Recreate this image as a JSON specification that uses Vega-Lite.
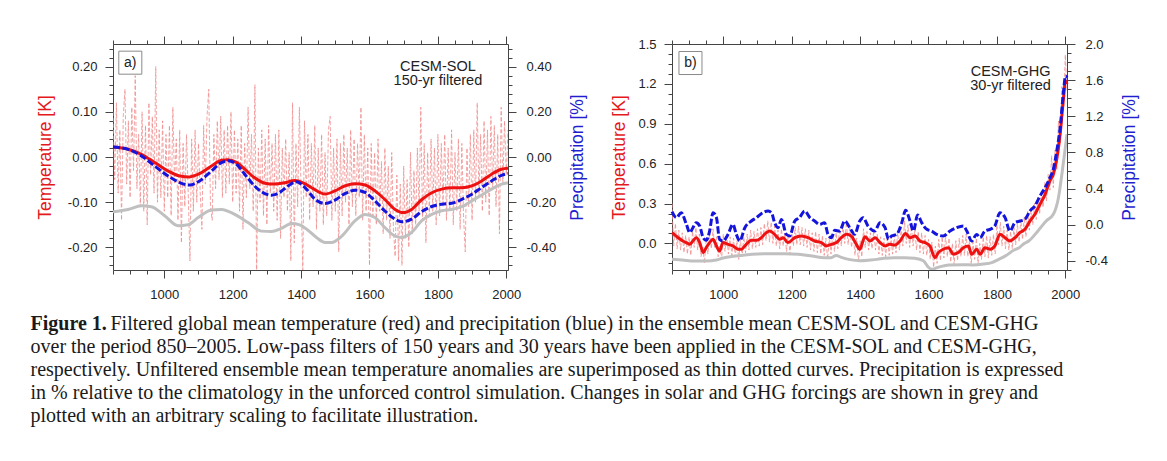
{
"$schema": "https://vega.github.io/schema/vega-lite/v6.json",
"padding": {"left": 30, "top": 35, "right": 5, "bottom": 5},
"background": "white",
"config": {
  "font": "Liberation Sans",
  "view": {"stroke": "#444", "strokeWidth": 1},
  "axis": {"domain": false, "grid": false, "tickColor": "#444", "tickWidth": 1, "tickSize": 8, "labelFont": "Liberation Sans", "labelFontSize": 13, "labelColor": "#222", "titleFont": "Liberation Sans", "titleFontSize": 17.5, "titleFontWeight": "normal"}
},
"title": {
  "text": "Figure 1.",
  "subtitle": [
    "\u200b\u00a0\u00a0\u00a0\u00a0\u00a0\u00a0\u00a0\u00a0\u00a0\u00a0\u00a0\u00a0\u00a0\u00a0\u00a0\u00a0Filtered global mean temperature (red) and precipitation (blue) in the ensemble mean CESM-SOL and CESM-GHG",
    "over the period 850–2005. Low-pass filters of 150 years and 30 years have been applied in the CESM-SOL and CESM-GHG,",
    "respectively. Unfiltered ensemble mean temperature anomalies are superimposed as thin dotted curves. Precipitation is expressed",
    "in % relative to the climatology in the unforced control simulation. Changes in solar and GHG forcings are shown in grey and",
    "plotted with an arbitrary scaling to facilitate illustration."
  ],
  "orient": "bottom", "anchor": "start", "offset": 12, "dx": -5,
  "font": "Liberation Serif", "fontSize": 20, "fontWeight": "bold", "color": "#1a1a1a",
  "subtitleFont": "Liberation Serif", "subtitleFontSize": 20, "subtitleColor": "#1a1a1a", "subtitleLineHeight": 23, "subtitlePadding": -20
},
"datasets": {
  "a_noise": [
    {"year":850,"value":0.10},{"year":855,"value":-0.05},{"year":860,"value":0.12},{"year":865,"value":-0.08},{"year":870,"value":0.06},{"year":875,"value":-0.14},{"year":880,"value":0.09},{"year":885,"value":0.15},{"year":890,"value":-0.06},{"year":895,"value":0.08},
    {"year":900,"value":-0.09},{"year":905,"value":0.11},{"year":910,"value":-0.03},{"year":915,"value":0.18},{"year":920,"value":-0.07},{"year":925,"value":0.05},{"year":930,"value":-0.11},{"year":935,"value":0.10},{"year":940,"value":-0.12},{"year":945,"value":0.07},
    {"year":950,"value":-0.15},{"year":955,"value":0.12},{"year":960,"value":-0.04},{"year":965,"value":0.09},{"year":970,"value":-0.08},{"year":975,"value":0.20},{"year":980,"value":-0.10},{"year":985,"value":0.06},{"year":990,"value":-0.09},{"year":995,"value":0.08},
    {"year":1000,"value":-0.12},{"year":1005,"value":0.05},{"year":1010,"value":-0.09},{"year":1015,"value":0.07},{"year":1020,"value":-0.13},{"year":1025,"value":0.11},{"year":1030,"value":-0.06},{"year":1035,"value":0.04},{"year":1040,"value":-0.14},{"year":1045,"value":0.06},
    {"year":1050,"value":-0.19},{"year":1055,"value":0.03},{"year":1060,"value":-0.11},{"year":1065,"value":0.05},{"year":1070,"value":-0.08},{"year":1075,"value":-0.23},{"year":1080,"value":0.04},{"year":1085,"value":-0.12},{"year":1090,"value":0.06},{"year":1095,"value":-0.10},
    {"year":1100,"value":0.03},{"year":1105,"value":-0.08},{"year":1110,"value":-0.16},{"year":1115,"value":0.07},{"year":1120,"value":-0.06},{"year":1125,"value":0.09},{"year":1130,"value":0.15},{"year":1135,"value":-0.11},{"year":1140,"value":-0.14},{"year":1145,"value":0.05},
    {"year":1150,"value":-0.07},{"year":1155,"value":0.08},{"year":1160,"value":-0.05},{"year":1165,"value":0.09},{"year":1170,"value":-0.09},{"year":1175,"value":0.06},{"year":1180,"value":-0.08},{"year":1185,"value":0.07},{"year":1190,"value":-0.06},{"year":1195,"value":0.10},
    {"year":1200,"value":-0.10},{"year":1205,"value":0.06},{"year":1210,"value":-0.08},{"year":1215,"value":0.04},{"year":1220,"value":-0.12},{"year":1225,"value":0.07},{"year":1230,"value":-0.16},{"year":1235,"value":0.03},{"year":1240,"value":-0.09},{"year":1245,"value":0.11},
    {"year":1250,"value":-0.07},{"year":1255,"value":0.05},{"year":1260,"value":-0.12},{"year":1265,"value":0.16},{"year":1270,"value":-0.25},{"year":1275,"value":0.02},{"year":1280,"value":-0.10},{"year":1285,"value":0.06},{"year":1290,"value":-0.13},{"year":1295,"value":0.04},
    {"year":1300,"value":-0.15},{"year":1305,"value":0.07},{"year":1310,"value":-0.08},{"year":1315,"value":0.03},{"year":1320,"value":-0.12},{"year":1325,"value":0.05},{"year":1330,"value":-0.14},{"year":1335,"value":0.06},{"year":1340,"value":-0.18},{"year":1345,"value":0.02},
    {"year":1350,"value":-0.09},{"year":1355,"value":0.04},{"year":1360,"value":-0.12},{"year":1365,"value":0.01},{"year":1370,"value":-0.23},{"year":1375,"value":0.12},{"year":1380,"value":-0.19},{"year":1385,"value":0.03},{"year":1390,"value":-0.11},{"year":1395,"value":0.11},
    {"year":1400,"value":-0.08},{"year":1405,"value":-0.25},{"year":1410,"value":0.08},{"year":1415,"value":-0.09},{"year":1420,"value":0.05},{"year":1425,"value":-0.14},{"year":1430,"value":0.03},{"year":1435,"value":-0.11},{"year":1440,"value":0.07},{"year":1445,"value":-0.16},
    {"year":1450,"value":0.02},{"year":1455,"value":-0.12},{"year":1460,"value":0.05},{"year":1465,"value":-0.15},{"year":1470,"value":0.01},{"year":1475,"value":-0.13},{"year":1480,"value":0.06},{"year":1485,"value":0.09},{"year":1490,"value":-0.14},{"year":1495,"value":0.02},
    {"year":1500,"value":-0.12},{"year":1505,"value":0.04},{"year":1510,"value":-0.21},{"year":1515,"value":0.03},{"year":1520,"value":-0.13},{"year":1525,"value":0.05},{"year":1530,"value":-0.10},{"year":1535,"value":0.02},{"year":1540,"value":-0.15},{"year":1545,"value":0.06},
    {"year":1550,"value":-0.11},{"year":1555,"value":0.04},{"year":1560,"value":-0.13},{"year":1565,"value":0.03},{"year":1570,"value":-0.09},{"year":1575,"value":0.11},{"year":1580,"value":-0.14},{"year":1585,"value":0.05},{"year":1590,"value":-0.12},{"year":1595,"value":0.02},
    {"year":1600,"value":-0.24},{"year":1605,"value":0.03},{"year":1610,"value":-0.13},{"year":1615,"value":0.01},{"year":1620,"value":-0.15},{"year":1625,"value":0.04},{"year":1630,"value":-0.12},{"year":1635,"value":-0.01},{"year":1640,"value":-0.17},{"year":1645,"value":0.02},
    {"year":1650,"value":-0.14},{"year":1655,"value":-0.02},{"year":1660,"value":-0.18},{"year":1665,"value":0.01},{"year":1670,"value":-0.16},{"year":1675,"value":-0.22},{"year":1680,"value":-0.04},{"year":1685,"value":-0.23},{"year":1690,"value":-0.06},{"year":1695,"value":-0.24},
    {"year":1700,"value":-0.02},{"year":1705,"value":-0.18},{"year":1710,"value":-0.05},{"year":1715,"value":-0.20},{"year":1720,"value":0.01},{"year":1725,"value":-0.17},{"year":1730,"value":-0.03},{"year":1735,"value":-0.15},{"year":1740,"value":0.02},{"year":1745,"value":-0.12},
    {"year":1750,"value":0.11},{"year":1755,"value":-0.14},{"year":1760,"value":0.03},{"year":1765,"value":-0.19},{"year":1770,"value":0.01},{"year":1775,"value":-0.13},{"year":1780,"value":0.04},{"year":1785,"value":-0.12},{"year":1790,"value":0.02},{"year":1795,"value":-0.15},
    {"year":1800,"value":0.05},{"year":1805,"value":-0.13},{"year":1810,"value":0.03},{"year":1815,"value":-0.11},{"year":1820,"value":0.05},{"year":1825,"value":-0.14},{"year":1830,"value":0.02},{"year":1835,"value":-0.12},{"year":1840,"value":0.06},{"year":1845,"value":-0.15},
    {"year":1850,"value":0.01},{"year":1855,"value":-0.12},{"year":1860,"value":0.04},{"year":1865,"value":-0.16},{"year":1870,"value":0.03},{"year":1875,"value":-0.13},{"year":1880,"value":-0.21},{"year":1885,"value":0.02},{"year":1890,"value":-0.11},{"year":1895,"value":0.05},
    {"year":1900,"value":-0.14},{"year":1905,"value":0.06},{"year":1910,"value":-0.10},{"year":1915,"value":0.12},{"year":1920,"value":-0.09},{"year":1925,"value":0.05},{"year":1930,"value":-0.12},{"year":1935,"value":0.08},{"year":1940,"value":-0.10},{"year":1945,"value":0.06},
    {"year":1950,"value":-0.13},{"year":1955,"value":0.09},{"year":1960,"value":-0.07},{"year":1965,"value":0.07},{"year":1970,"value":-0.11},{"year":1975,"value":0.05},{"year":1980,"value":-0.17},{"year":1985,"value":0.11},{"year":1990,"value":-0.06},{"year":1995,"value":0.08},
    {"year":2000,"value":-0.04},{"year":2005,"value":0.06}
  ],
  "a_temp": [
    {"year":850,"value":0.022},{"year":894,"value":0.017},{"year":933,"value":0.006},{"year":972,"value":-0.012},{"year":1011,"value":-0.031},{"year":1045,"value":-0.042},{"year":1074,"value":-0.044},{"year":1103,"value":-0.037},{"year":1138,"value":-0.020},{"year":1167,"value":-0.007},
    {"year":1186,"value":-0.006},{"year":1211,"value":-0.012},{"year":1235,"value":-0.027},{"year":1264,"value":-0.046},{"year":1294,"value":-0.058},{"year":1323,"value":-0.060},{"year":1352,"value":-0.057},{"year":1381,"value":-0.052},{"year":1406,"value":-0.057},{"year":1435,"value":-0.070},
    {"year":1470,"value":-0.082},{"year":1499,"value":-0.075},{"year":1528,"value":-0.064},{"year":1558,"value":-0.059},{"year":1587,"value":-0.062},{"year":1616,"value":-0.075},{"year":1645,"value":-0.094},{"year":1675,"value":-0.116},{"year":1699,"value":-0.123},{"year":1723,"value":-0.116},
    {"year":1753,"value":-0.094},{"year":1782,"value":-0.079},{"year":1811,"value":-0.071},{"year":1840,"value":-0.068},{"year":1870,"value":-0.068},{"year":1899,"value":-0.064},{"year":1928,"value":-0.053},{"year":1957,"value":-0.038},{"year":1986,"value":-0.027},{"year":2005,"value":-0.025}
  ],
  "a_prec": [
    {"year":850,"value":0.044},{"year":894,"value":0.034},{"year":933,"value":0.005},{"year":972,"value":-0.040},{"year":1011,"value":-0.084},{"year":1045,"value":-0.113},{"year":1074,"value":-0.124},{"year":1103,"value":-0.106},{"year":1138,"value":-0.062},{"year":1167,"value":-0.025},
    {"year":1186,"value":-0.017},{"year":1211,"value":-0.032},{"year":1235,"value":-0.076},{"year":1264,"value":-0.128},{"year":1294,"value":-0.162},{"year":1313,"value":-0.169},{"year":1337,"value":-0.157},{"year":1362,"value":-0.128},{"year":1386,"value":-0.109},{"year":1411,"value":-0.135},
    {"year":1441,"value":-0.187},{"year":1470,"value":-0.206},{"year":1499,"value":-0.191},{"year":1528,"value":-0.162},{"year":1558,"value":-0.147},{"year":1587,"value":-0.157},{"year":1616,"value":-0.194},{"year":1645,"value":-0.239},{"year":1675,"value":-0.275},{"year":1694,"value":-0.287},
    {"year":1723,"value":-0.275},{"year":1753,"value":-0.241},{"year":1782,"value":-0.219},{"year":1811,"value":-0.209},{"year":1840,"value":-0.205},{"year":1870,"value":-0.187},{"year":1899,"value":-0.165},{"year":1928,"value":-0.135},{"year":1957,"value":-0.106},{"year":1986,"value":-0.081},{"year":2005,"value":-0.073}
  ],
  "a_forc": [
    {"year":850,"value":-0.121},{"year":894,"value":-0.116},{"year":933,"value":-0.108},{"year":962,"value":-0.110},{"year":1001,"value":-0.130},{"year":1040,"value":-0.152},{"year":1069,"value":-0.150},{"year":1099,"value":-0.134},{"year":1138,"value":-0.117},{"year":1167,"value":-0.116},
    {"year":1206,"value":-0.127},{"year":1245,"value":-0.145},{"year":1284,"value":-0.164},{"year":1313,"value":-0.165},{"year":1342,"value":-0.158},{"year":1372,"value":-0.147},{"year":1396,"value":-0.150},{"year":1420,"value":-0.162},{"year":1445,"value":-0.178},{"year":1470,"value":-0.189},
    {"year":1489,"value":-0.189},{"year":1519,"value":-0.175},{"year":1558,"value":-0.141},{"year":1587,"value":-0.127},{"year":1616,"value":-0.134},{"year":1645,"value":-0.156},{"year":1675,"value":-0.175},{"year":1694,"value":-0.178},{"year":1723,"value":-0.167},{"year":1753,"value":-0.141},
    {"year":1782,"value":-0.127},{"year":1811,"value":-0.119},{"year":1840,"value":-0.116},{"year":1870,"value":-0.110},{"year":1899,"value":-0.097},{"year":1928,"value":-0.084},{"year":1957,"value":-0.071},{"year":1986,"value":-0.060},{"year":2005,"value":-0.057}
  ],
  "b_noise": [
    {"year":850,"value":0.30},{"year":855,"value":-0.02},{"year":860,"value":0.15},{"year":865,"value":-0.04},{"year":870,"value":0.10},{"year":875,"value":-0.05},{"year":880,"value":0.08},{"year":885,"value":-0.07},{"year":890,"value":0.06},{"year":895,"value":-0.08},
    {"year":900,"value":0.05},{"year":905,"value":-0.09},{"year":910,"value":0.09},{"year":915,"value":-0.03},{"year":920,"value":0.12},{"year":925,"value":-0.05},{"year":930,"value":0.07},{"year":935,"value":-0.10},{"year":940,"value":-0.02},{"year":945,"value":-0.15},
    {"year":950,"value":0.04},{"year":955,"value":-0.08},{"year":960,"value":0.08},{"year":965,"value":-0.04},{"year":970,"value":0.11},{"year":975,"value":-0.03},{"year":980,"value":0.05},{"year":985,"value":-0.10},{"year":990,"value":-0.02},{"year":995,"value":-0.12},
    {"year":1000,"value":0.07},{"year":1005,"value":-0.06},{"year":1010,"value":0.06},{"year":1015,"value":-0.08},{"year":1020,"value":0.05},{"year":1025,"value":-0.09},{"year":1030,"value":0.04},{"year":1035,"value":-0.10},{"year":1040,"value":0.02},{"year":1045,"value":-0.12},
    {"year":1050,"value":0.03},{"year":1055,"value":-0.10},{"year":1060,"value":0.05},{"year":1065,"value":-0.07},{"year":1070,"value":0.07},{"year":1075,"value":-0.05},{"year":1080,"value":0.10},{"year":1085,"value":-0.04},{"year":1090,"value":0.09},{"year":1095,"value":-0.03},
    {"year":1100,"value":0.11},{"year":1105,"value":-0.02},{"year":1110,"value":0.12},{"year":1115,"value":-0.01},{"year":1120,"value":0.15},{"year":1125,"value":0.02},{"year":1130,"value":0.17},{"year":1135,"value":0.01},{"year":1140,"value":0.16},{"year":1145,"value":0.00},
    {"year":1150,"value":0.13},{"year":1155,"value":-0.02},{"year":1160,"value":0.10},{"year":1165,"value":-0.04},{"year":1170,"value":0.11},{"year":1175,"value":-0.02},{"year":1180,"value":0.08},{"year":1185,"value":-0.06},{"year":1190,"value":0.07},{"year":1195,"value":-0.08},
    {"year":1200,"value":0.10},{"year":1205,"value":-0.02},{"year":1210,"value":0.12},{"year":1215,"value":-0.01},{"year":1220,"value":0.13},{"year":1225,"value":-0.01},{"year":1230,"value":0.12},{"year":1235,"value":-0.02},{"year":1240,"value":0.11},{"year":1245,"value":-0.03},
    {"year":1250,"value":0.10},{"year":1255,"value":-0.05},{"year":1260,"value":0.08},{"year":1265,"value":-0.06},{"year":1270,"value":0.09},{"year":1275,"value":-0.07},{"year":1280,"value":0.07},{"year":1285,"value":-0.08},{"year":1290,"value":0.06},{"year":1295,"value":-0.09},
    {"year":1300,"value":0.04},{"year":1305,"value":-0.12},{"year":1310,"value":0.05},{"year":1315,"value":-0.08},{"year":1320,"value":0.07},{"year":1325,"value":-0.06},{"year":1330,"value":0.08},{"year":1335,"value":-0.04},{"year":1340,"value":0.11},{"year":1345,"value":-0.02},
    {"year":1350,"value":0.14},{"year":1355,"value":0.00},{"year":1360,"value":0.16},{"year":1365,"value":-0.01},{"year":1370,"value":0.12},{"year":1375,"value":-0.03},{"year":1380,"value":0.07},{"year":1385,"value":-0.09},{"year":1390,"value":0.04},{"year":1395,"value":-0.14},
    {"year":1400,"value":0.02},{"year":1405,"value":-0.10},{"year":1410,"value":0.11},{"year":1415,"value":-0.03},{"year":1420,"value":0.09},{"year":1425,"value":-0.05},{"year":1430,"value":0.08},{"year":1435,"value":-0.04},{"year":1440,"value":0.10},{"year":1445,"value":-0.05},
    {"year":1450,"value":0.07},{"year":1455,"value":-0.08},{"year":1460,"value":0.05},{"year":1465,"value":-0.09},{"year":1470,"value":0.04},{"year":1475,"value":-0.10},{"year":1480,"value":0.06},{"year":1485,"value":-0.09},{"year":1490,"value":0.05},{"year":1495,"value":-0.08},
    {"year":1500,"value":0.06},{"year":1505,"value":-0.07},{"year":1510,"value":0.08},{"year":1515,"value":-0.05},{"year":1520,"value":0.12},{"year":1525,"value":-0.02},{"year":1530,"value":0.17},{"year":1535,"value":0.00},{"year":1540,"value":0.14},{"year":1545,"value":-0.03},
    {"year":1550,"value":0.13},{"year":1555,"value":-0.02},{"year":1560,"value":0.11},{"year":1565,"value":-0.05},{"year":1570,"value":0.09},{"year":1575,"value":-0.07},{"year":1580,"value":0.08},{"year":1585,"value":-0.08},{"year":1590,"value":0.06},{"year":1595,"value":-0.09},
    {"year":1600,"value":0.03},{"year":1605,"value":-0.12},{"year":1610,"value":0.01},{"year":1615,"value":-0.18},{"year":1620,"value":-0.02},{"year":1625,"value":-0.15},{"year":1630,"value":0.03},{"year":1635,"value":-0.13},{"year":1640,"value":0.05},{"year":1645,"value":-0.11},
    {"year":1650,"value":0.06},{"year":1655,"value":-0.10},{"year":1660,"value":0.04},{"year":1665,"value":-0.14},{"year":1670,"value":0.00},{"year":1675,"value":-0.16},{"year":1680,"value":0.02},{"year":1685,"value":-0.13},{"year":1690,"value":0.04},{"year":1695,"value":-0.10},
    {"year":1700,"value":0.06},{"year":1705,"value":-0.09},{"year":1710,"value":0.07},{"year":1715,"value":-0.10},{"year":1720,"value":0.02},{"year":1725,"value":-0.16},{"year":1730,"value":0.01},{"year":1735,"value":-0.12},{"year":1740,"value":0.04},{"year":1745,"value":-0.15},
    {"year":1750,"value":0.00},{"year":1755,"value":-0.12},{"year":1760,"value":0.05},{"year":1765,"value":-0.10},{"year":1770,"value":0.06},{"year":1775,"value":-0.11},{"year":1780,"value":0.05},{"year":1785,"value":-0.09},{"year":1790,"value":0.07},{"year":1795,"value":-0.08},
    {"year":1800,"value":0.14},{"year":1805,"value":-0.01},{"year":1810,"value":0.16},{"year":1815,"value":-0.02},{"year":1820,"value":0.13},{"year":1825,"value":-0.04},{"year":1830,"value":0.10},{"year":1835,"value":-0.05},{"year":1840,"value":0.09},{"year":1845,"value":-0.04},
    {"year":1850,"value":0.12},{"year":1855,"value":-0.01},{"year":1860,"value":0.15},{"year":1865,"value":0.01},{"year":1870,"value":0.18},{"year":1875,"value":0.03},{"year":1880,"value":0.20},{"year":1885,"value":0.05},{"year":1890,"value":0.24},{"year":1895,"value":0.10},
    {"year":1900,"value":0.27},{"year":1905,"value":0.14},{"year":1910,"value":0.30},{"year":1915,"value":0.18},{"year":1920,"value":0.35},{"year":1925,"value":0.22},{"year":1930,"value":0.40},{"year":1935,"value":0.27},{"year":1940,"value":0.46},{"year":1945,"value":0.32},
    {"year":1950,"value":0.52},{"year":1955,"value":0.40},{"year":1960,"value":0.66},{"year":1965,"value":0.42},{"year":1970,"value":0.70},{"year":1975,"value":0.55},{"year":1980,"value":0.92},{"year":1985,"value":0.75},{"year":1990,"value":1.18},{"year":1995,"value":1.00},
    {"year":2000,"value":1.42},{"year":2005,"value":1.15}
  ],
  "b_temp": [
    {"year":850,"value":0.081},{"year":868,"value":0.043},{"year":882,"value":0.018},{"year":892,"value":0.006},{"year":902,"value":-0.007},{"year":911,"value":0.018},{"year":921,"value":0.043},{"year":931,"value":0.006},{"year":941,"value":-0.069},{"year":950,"value":-0.032},
    {"year":960,"value":0.006},{"year":970,"value":0.031},{"year":980,"value":-0.019},{"year":989,"value":-0.057},{"year":999,"value":0.006},{"year":1014,"value":-0.007},{"year":1028,"value":-0.019},{"year":1043,"value":-0.044},{"year":1053,"value":-0.044},{"year":1067,"value":-0.007},
    {"year":1082,"value":0.023},{"year":1097,"value":0.023},{"year":1111,"value":0.043},{"year":1126,"value":0.081},{"year":1136,"value":0.093},{"year":1150,"value":0.068},{"year":1165,"value":0.031},{"year":1175,"value":0.043},{"year":1189,"value":0.006},{"year":1209,"value":0.043},
    {"year":1228,"value":0.056},{"year":1248,"value":0.043},{"year":1267,"value":0.018},{"year":1287,"value":0.006},{"year":1301,"value":-0.019},{"year":1316,"value":-0.007},{"year":1331,"value":0.006},{"year":1345,"value":0.043},{"year":1360,"value":0.068},{"year":1374,"value":0.056},
    {"year":1389,"value":-0.007},{"year":1399,"value":-0.044},{"year":1414,"value":0.050},{"year":1429,"value":0.018},{"year":1444,"value":0.043},{"year":1458,"value":0.006},{"year":1473,"value":-0.019},{"year":1487,"value":-0.007},{"year":1502,"value":-0.012},{"year":1517,"value":0.018},
    {"year":1533,"value":0.074},{"year":1546,"value":0.043},{"year":1561,"value":0.056},{"year":1575,"value":0.018},{"year":1590,"value":0.006},{"year":1604,"value":-0.019},{"year":1619,"value":-0.107},{"year":1629,"value":-0.069},{"year":1643,"value":-0.044},{"year":1658,"value":-0.032},
    {"year":1673,"value":-0.082},{"year":1687,"value":-0.069},{"year":1702,"value":-0.032},{"year":1717,"value":-0.019},{"year":1726,"value":-0.082},{"year":1741,"value":-0.044},{"year":1751,"value":-0.082},{"year":1765,"value":-0.032},{"year":1780,"value":-0.044},{"year":1794,"value":-0.019},
    {"year":1809,"value":0.069},{"year":1824,"value":0.043},{"year":1838,"value":0.018},{"year":1853,"value":0.043},{"year":1867,"value":0.081},{"year":1882,"value":0.106},{"year":1897,"value":0.169},{"year":1911,"value":0.219},{"year":1926,"value":0.294},{"year":1941,"value":0.369},
    {"year":1955,"value":0.470},{"year":1965,"value":0.520},{"year":1975,"value":0.633},{"year":1985,"value":0.821},{"year":1994,"value":1.071},{"year":2001,"value":1.222},{"year":2005,"value":1.200}
  ],
  "b_prec": [
    {"year":850,"value":0.145},{"year":863,"value":0.079},{"year":877,"value":0.134},{"year":892,"value":0.005},{"year":902,"value":-0.087},{"year":911,"value":-0.032},{"year":921,"value":0.024},{"year":931,"value":-0.013},{"year":941,"value":-0.142},{"year":950,"value":-0.172},
    {"year":960,"value":-0.069},{"year":970,"value":0.134},{"year":980,"value":0.079},{"year":989,"value":-0.161},{"year":999,"value":-0.179},{"year":1014,"value":-0.105},{"year":1028,"value":0.005},{"year":1038,"value":-0.105},{"year":1048,"value":-0.179},{"year":1063,"value":-0.032},
    {"year":1082,"value":0.042},{"year":1097,"value":0.079},{"year":1111,"value":0.123},{"year":1131,"value":0.153},{"year":1141,"value":0.134},{"year":1150,"value":0.024},{"year":1160,"value":-0.032},{"year":1170,"value":0.060},{"year":1184,"value":-0.105},{"year":1194,"value":-0.124},
    {"year":1209,"value":0.042},{"year":1223,"value":0.079},{"year":1238,"value":0.153},{"year":1253,"value":0.079},{"year":1267,"value":0.042},{"year":1282,"value":0.005},{"year":1296,"value":0.024},{"year":1306,"value":-0.105},{"year":1316,"value":-0.142},{"year":1326,"value":-0.061},
    {"year":1340,"value":-0.069},{"year":1355,"value":0.042},{"year":1370,"value":-0.032},{"year":1384,"value":-0.105},{"year":1399,"value":0.042},{"year":1409,"value":0.079},{"year":1423,"value":-0.013},{"year":1443,"value":-0.069},{"year":1458,"value":0.024},{"year":1473,"value":-0.032},
    {"year":1483,"value":-0.161},{"year":1492,"value":-0.124},{"year":1507,"value":-0.106},{"year":1522,"value":0.024},{"year":1533,"value":0.160},{"year":1546,"value":0.042},{"year":1556,"value":-0.069},{"year":1568,"value":0.108},{"year":1580,"value":0.024},{"year":1595,"value":-0.050},
    {"year":1609,"value":-0.069},{"year":1624,"value":-0.106},{"year":1643,"value":-0.124},{"year":1663,"value":-0.069},{"year":1682,"value":-0.032},{"year":1702,"value":-0.013},{"year":1712,"value":-0.069},{"year":1726,"value":-0.179},{"year":1741,"value":-0.106},{"year":1751,"value":-0.142},
    {"year":1765,"value":-0.069},{"year":1780,"value":-0.050},{"year":1794,"value":-0.013},{"year":1809,"value":0.134},{"year":1824,"value":0.079},{"year":1838,"value":-0.069},{"year":1853,"value":0.024},{"year":1868,"value":0.042},{"year":1882,"value":0.061},{"year":1897,"value":0.153},
    {"year":1911,"value":0.208},{"year":1926,"value":0.319},{"year":1941,"value":0.411},{"year":1955,"value":0.521},{"year":1965,"value":0.614},{"year":1975,"value":0.816},{"year":1985,"value":1.074},{"year":1994,"value":1.443},{"year":2001,"value":1.646},{"year":2005,"value":1.627}
  ],
  "b_forc": [
    {"year":850,"value":-0.120},{"year":880,"value":-0.125},{"year":915,"value":-0.132},{"year":950,"value":-0.132},{"year":980,"value":-0.125},{"year":1000,"value":-0.110},{"year":1030,"value":-0.097},{"year":1070,"value":-0.085},{"year":1100,"value":-0.080},{"year":1150,"value":-0.077},
    {"year":1180,"value":-0.077},{"year":1220,"value":-0.082},{"year":1260,"value":-0.095},{"year":1295,"value":-0.107},{"year":1315,"value":-0.108},{"year":1330,"value":-0.090},{"year":1345,"value":-0.105},{"year":1370,"value":-0.122},{"year":1400,"value":-0.130},{"year":1430,"value":-0.125},
    {"year":1450,"value":-0.120},{"year":1470,"value":-0.112},{"year":1500,"value":-0.107},{"year":1530,"value":-0.107},{"year":1560,"value":-0.112},{"year":1585,"value":-0.130},{"year":1600,"value":-0.180},{"year":1610,"value":-0.195},{"year":1625,"value":-0.182},{"year":1660,"value":-0.162},
    {"year":1700,"value":-0.160},{"year":1730,"value":-0.162},{"year":1760,"value":-0.155},{"year":1785,"value":-0.144},{"year":1805,"value":-0.120},{"year":1825,"value":-0.094},{"year":1850,"value":-0.050},{"year":1865,"value":-0.032},{"year":1880,"value":0.000},{"year":1893,"value":0.018},
    {"year":1920,"value":0.094},{"year":1944,"value":0.169},{"year":1965,"value":0.219},{"year":1980,"value":0.344},{"year":1990,"value":0.520},{"year":2000,"value":0.720},{"year":2005,"value":0.821}
  ]
},
"bounds": "flush",
"spacing": 164,
"hconcat": [
  {
    "width": 395, "height": 226,
    "layer": [
      {
        "layer": [
          {
            "data": {"name": "a_noise"},
            "mark": {"type": "line", "stroke": "#f08c8c", "strokeWidth": 0.8, "strokeDash": [4, 2], "clip": true},
            "encoding": {
              "x": {"field": "year", "type": "quantitative", "scale": {"domain": [850, 2005], "nice": false, "zero": false},
                    "axis": {"orient": "bottom", "values": [1000, 1200, 1400, 1600, 1800, 2000], "format": "d", "labelPadding": 10, "title": null}},
              "y": {"field": "value", "type": "quantitative", "scale": {"domain": [-0.25, 0.25], "nice": false, "zero": false},
                    "axis": {"orient": "left", "values": [-0.2, -0.1, 0, 0.1, 0.2], "format": ".2f", "labelExpr": "replace(datum.label, '\u2212', '-')", "labelPadding": 8,
                             "title": "Temperature [K]", "titleColor": "#e4191c", "titleAngle": 270, "titleX": -68, "titleY": 113, "titleBaseline": "middle", "titleAlign": "center"}}
            }
          },
          {
            "data": {"name": "a_forc"},
            "mark": {"type": "line", "stroke": "#c0c0c0", "strokeWidth": 3, "interpolate": "monotone"},
            "encoding": {
              "x": {"field": "year", "type": "quantitative", "axis": {"orient": "top", "values": [1000, 1200, 1400, 1600, 1800, 2000], "labels": false, "title": null}},
              "y": {"field": "value", "type": "quantitative", "axis": {"orient": "left", "values": [-0.24, -0.22, -0.2, -0.18, -0.16, -0.14, -0.12, -0.1, -0.08, -0.06, -0.04, -0.02, 0, 0.02, 0.04, 0.06, 0.08, 0.1, 0.12, 0.14, 0.16, 0.18, 0.2, 0.22, 0.24], "tickSize": 4, "labels": false, "title": null}}
            }
          },
          {
            "data": {"name": "a_temp"},
            "mark": {"type": "line", "stroke": "#ee1111", "strokeWidth": 3, "interpolate": "monotone"},
            "encoding": {
              "x": {"field": "year", "type": "quantitative", "axis": {"orient": "bottom", "values": [850, 900, 950, 1050, 1100, 1150, 1250, 1300, 1350, 1450, 1500, 1550, 1650, 1700, 1750, 1850, 1900, 1950], "tickSize": 4, "labels": false, "title": null}},
              "y": {"field": "value", "type": "quantitative", "axis": null}
            }
          },
          {
            "data": {"values": [{}]},
            "mark": {"type": "point", "shape": "square", "size": 530, "filled": false, "stroke": "#8a8a8a", "strokeWidth": 1, "opacity": 1},
            "encoding": {
              "x": {"datum": 900.6, "type": "quantitative", "axis": {"orient": "top", "values": [850, 900, 950, 1050, 1100, 1150, 1250, 1300, 1350, 1450, 1500, 1550, 1650, 1700, 1750, 1850, 1900, 1950], "tickSize": 4, "labels": false, "title": null}},
              "y": {"datum": 0.2087, "type": "quantitative", "axis": null}
            }
          },
          {
            "data": {"values": [{}]},
            "mark": {"type": "text", "text": "a)", "fontSize": 14, "color": "#222", "align": "center", "baseline": "middle"},
            "encoding": {
              "x": {"datum": 900.6, "type": "quantitative", "axis": null},
              "y": {"datum": 0.2087, "type": "quantitative", "axis": null}
            }
          },
          {
            "data": {"values": [{}]},
            "mark": {"type": "text", "text": ["CESM-SOL", "150-yr filtered"], "fontSize": 14.5, "lineHeight": 14.5, "color": "#222", "align": "center", "baseline": "middle"},
            "encoding": {
              "x": {"datum": 1800, "type": "quantitative", "axis": null},
              "y": {"datum": 0.2, "type": "quantitative", "axis": null}
            }
          }
        ],
        "resolve": {"axis": {"x": "independent", "y": "independent"}}
      },
      {
        "layer": [
          {
            "data": {"name": "a_prec"},
            "mark": {"type": "line", "stroke": "#1414dc", "strokeWidth": 3, "strokeDash": [7, 2.5], "interpolate": "monotone"},
            "encoding": {
              "x": {"field": "year", "type": "quantitative", "axis": null},
              "y": {"field": "value", "type": "quantitative", "scale": {"domain": [-0.5, 0.5], "nice": false, "zero": false},
                    "axis": {"orient": "right", "values": [-0.4, -0.2, 0, 0.2, 0.4], "format": ".2f", "labelExpr": "replace(datum.label, '\u2212', '-')", "labelPadding": 10,
                             "title": "Precipitation [%]", "titleColor": "#1f1fd0", "titleAngle": 270, "titleX": 69, "titleY": 113, "titleBaseline": "middle", "titleAlign": "center"}}
            }
          },
          {
            "data": {"name": "a_prec"},
            "mark": {"type": "line", "strokeOpacity": 0},
            "encoding": {
              "x": {"field": "year", "type": "quantitative", "axis": null},
              "y": {"field": "value", "type": "quantitative", "axis": {"orient": "right", "values": [-0.48, -0.44, -0.4, -0.36, -0.32, -0.28, -0.24, -0.2, -0.16, -0.12, -0.08, -0.04, 0, 0.04, 0.08, 0.12, 0.16, 0.2, 0.24, 0.28, 0.32, 0.36, 0.4, 0.44, 0.48], "tickSize": 4, "labels": false, "title": null}}
            }
          }
        ],
        "resolve": {"axis": {"y": "independent"}}
      }
    ],
    "resolve": {"scale": {"y": "independent"}, "axis": {"x": "independent", "y": "independent"}}
  },
  {
    "width": 395, "height": 226,
    "layer": [
      {
        "layer": [
          {
            "data": {"name": "b_noise"},
            "mark": {"type": "line", "stroke": "#f08c8c", "strokeWidth": 0.8, "strokeDash": [4, 2], "clip": true},
            "encoding": {
              "x": {"field": "year", "type": "quantitative", "scale": {"domain": [850, 2005], "nice": false, "zero": false},
                    "axis": {"orient": "bottom", "values": [1000, 1200, 1400, 1600, 1800, 2000], "format": "d", "labelPadding": 10, "title": null}},
              "y": {"field": "value", "type": "quantitative", "scale": {"domain": [-0.2, 1.5], "nice": false, "zero": false},
                    "axis": {"orient": "left", "values": [0, 0.3, 0.6, 0.9, 1.2, 1.5], "format": ".1f", "labelPadding": 8,
                             "title": "Temperature [K]", "titleColor": "#e4191c", "titleAngle": 270, "titleX": -53, "titleY": 113, "titleBaseline": "middle", "titleAlign": "center"}}
            }
          },
          {
            "data": {"name": "b_forc"},
            "mark": {"type": "line", "stroke": "#c0c0c0", "strokeWidth": 3, "interpolate": "monotone", "clip": true},
            "encoding": {
              "x": {"field": "year", "type": "quantitative", "axis": {"orient": "top", "values": [1000, 1200, 1400, 1600, 1800, 2000], "labels": false, "title": null}},
              "y": {"field": "value", "type": "quantitative", "axis": {"orient": "left", "values": [-0.15, -0.075, 0, 0.075, 0.15, 0.225, 0.3, 0.375, 0.45, 0.525, 0.6, 0.675, 0.75, 0.825, 0.9, 0.975, 1.05, 1.125, 1.2, 1.275, 1.35, 1.425, 1.5], "tickSize": 4, "labels": false, "title": null}}
            }
          },
          {
            "data": {"name": "b_temp"},
            "mark": {"type": "line", "stroke": "#ee1111", "strokeWidth": 3, "interpolate": "monotone"},
            "encoding": {
              "x": {"field": "year", "type": "quantitative", "axis": {"orient": "bottom", "values": [850, 900, 950, 1050, 1100, 1150, 1250, 1300, 1350, 1450, 1500, 1550, 1650, 1700, 1750, 1850, 1900, 1950], "tickSize": 4, "labels": false, "title": null}},
              "y": {"field": "value", "type": "quantitative", "axis": null}
            }
          },
          {
            "data": {"values": [{}]},
            "mark": {"type": "point", "shape": "square", "size": 530, "filled": false, "stroke": "#8a8a8a", "strokeWidth": 1, "opacity": 1},
            "encoding": {
              "x": {"datum": 904, "type": "quantitative", "axis": {"orient": "top", "values": [850, 900, 950, 1050, 1100, 1150, 1250, 1300, 1350, 1450, 1500, 1550, 1650, 1700, 1750, 1850, 1900, 1950], "tickSize": 4, "labels": false, "title": null}},
              "y": {"datum": 1.357, "type": "quantitative", "axis": null}
            }
          },
          {
            "data": {"values": [{}]},
            "mark": {"type": "text", "text": "b)", "fontSize": 14, "color": "#222", "align": "center", "baseline": "middle"},
            "encoding": {
              "x": {"datum": 904, "type": "quantitative", "axis": null},
              "y": {"datum": 1.357, "type": "quantitative", "axis": null}
            }
          },
          {
            "data": {"values": [{}]},
            "mark": {"type": "text", "text": ["CESM-GHG", "30-yr filtered"], "fontSize": 14.5, "lineHeight": 14.5, "color": "#222", "align": "center", "baseline": "middle"},
            "encoding": {
              "x": {"datum": 1840, "type": "quantitative", "axis": null},
              "y": {"datum": 1.29, "type": "quantitative", "axis": null}
            }
          }
        ],
        "resolve": {"axis": {"x": "independent", "y": "independent"}}
      },
      {
        "layer": [
          {
            "data": {"name": "b_prec"},
            "mark": {"type": "line", "stroke": "#1414dc", "strokeWidth": 3, "strokeDash": [7, 2.5], "interpolate": "monotone"},
            "encoding": {
              "x": {"field": "year", "type": "quantitative", "axis": null},
              "y": {"field": "value", "type": "quantitative", "scale": {"domain": [-0.5, 2.0], "nice": false, "zero": false},
                    "axis": {"orient": "right", "values": [-0.4, 0, 0.4, 0.8, 1.2, 1.6, 2.0], "format": ".1f", "labelExpr": "replace(datum.label, '\u2212', '-')", "labelPadding": 10,
                             "title": "Precipitation [%]", "titleColor": "#1f1fd0", "titleAngle": 270, "titleX": 62, "titleY": 113, "titleBaseline": "middle", "titleAlign": "center"}}
            }
          },
          {
            "data": {"name": "b_prec"},
            "mark": {"type": "line", "strokeOpacity": 0},
            "encoding": {
              "x": {"field": "year", "type": "quantitative", "axis": null},
              "y": {"field": "value", "type": "quantitative", "axis": {"orient": "right", "values": [-0.5, -0.4, -0.3, -0.2, -0.1, 0, 0.1, 0.2, 0.3, 0.4, 0.5, 0.6, 0.7, 0.8, 0.9, 1.0, 1.1, 1.2, 1.3, 1.4, 1.5, 1.6, 1.7, 1.8, 1.9, 2.0], "tickSize": 4, "labels": false, "title": null}}
            }
          }
        ],
        "resolve": {"axis": {"y": "independent"}}
      }
    ],
    "resolve": {"scale": {"y": "independent"}, "axis": {"x": "independent", "y": "independent"}}
  }
]
}
